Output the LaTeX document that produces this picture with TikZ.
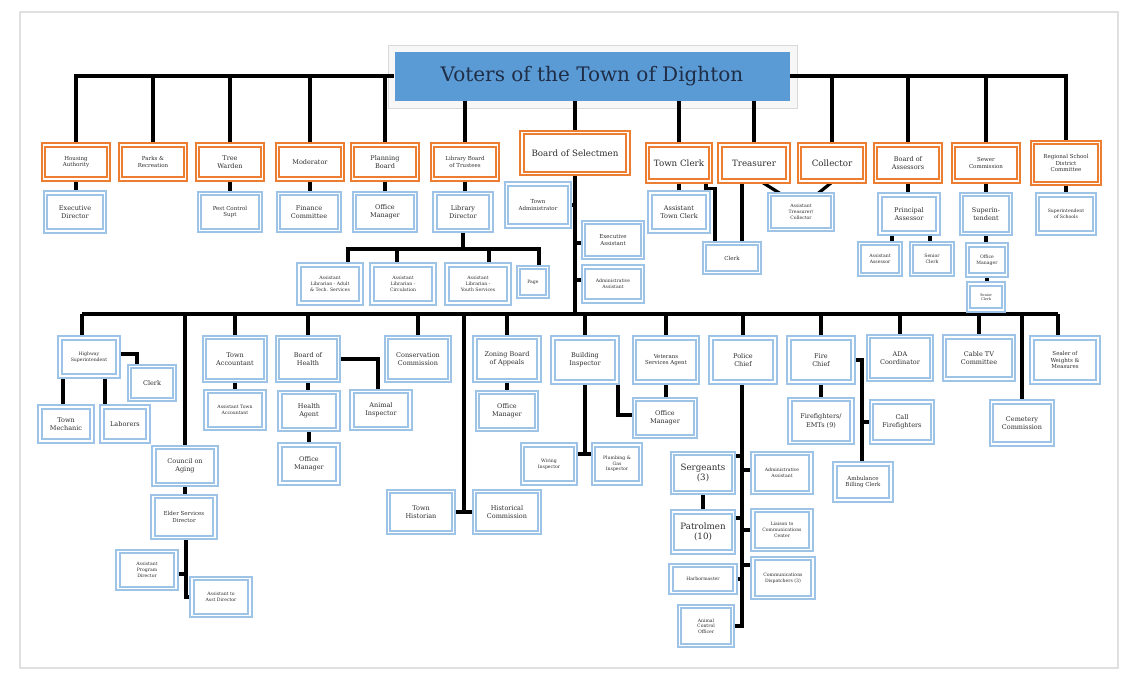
\documentclass[tikz,border=0pt]{standalone}
\usepackage{fontspec}
\setmainfont{DejaVu Serif}
\usepackage{tikz}
\usetikzlibrary{arrows,backgrounds}

\definecolor{boxorange}{RGB}{237,125,49}
\definecolor{boxblue}{RGB}{157,195,230}
\definecolor{titleblue}{RGB}{91,155,213}
\definecolor{titletext}{RGB}{31,45,70}
\definecolor{boxtext}{RGB}{45,45,45}

\begin{document}
\begin{tikzpicture}[x=1pt,y=-1pt]
      \tikzstyle{conn} = [draw, black, line width=3.2pt]
      \tikzstyle{ob} = [draw=boxorange, line width=2.2pt, double=white, double distance=1.1pt, fill=white, align=center, inner sep=1pt, text=boxtext]
      \tikzstyle{bb} = [draw=boxblue, line width=2.1pt, double=white, double distance=1.3pt, fill=white, align=center, inner sep=1pt, text=boxtext]
      \tikzstyle{txtL} = [font=\fontsize{8.7}{10.7}\selectfont]
      \tikzstyle{txtM} = [font=\fontsize{6.5}{8.1}\selectfont]
      \tikzstyle{txtS} = [font=\fontsize{5.5}{6.8}\selectfont]
      \tikzstyle{txtXS} = [font=\fontsize{4.6}{5.7}\selectfont]
      \useasboundingbox (0,0) rectangle (1136,681);
      \draw[black!12, line width=1.5pt] (20,12) rectangle (1118,668);

      % top
      \node[fill=titleblue, minimum width=395, minimum height=49, text=titletext, font=\fontsize{20}{24}\selectfont] (title) at (592,76) {Voters of the Town of Dighton};

      \node[ob, txtS, minimum width=65, minimum height=34] (housing) at (76,162) {Housing\\Authority};
      \node[ob, txtS, minimum width=65, minimum height=34] (parks) at (153,162) {Parks \&\\Recreation};
      \node[ob, txtM, minimum width=65, minimum height=34] (treewarden) at (230,162) {Tree\\Warden};
      \node[ob, txtM, minimum width=65, minimum height=34] (moderator) at (310,162) {Moderator};
      \node[ob, txtM, minimum width=65, minimum height=34] (planning) at (385,162) {Planning\\Board};
      \node[ob, txtS, minimum width=65, minimum height=34] (libboard) at (465,162) {Library Board\\of Trustees};
      \node[ob, txtL, minimum width=106, minimum height=41] (selectmen) at (575,153) {Board of Selectmen};
      \node[ob, txtL, minimum width=63, minimum height=36] (townclerk) at (679,163) {Town Clerk};
      \node[ob, txtL, minimum width=68, minimum height=36] (treasurer) at (754,163) {Treasurer};
      \node[ob, txtL, minimum width=65, minimum height=36] (collector) at (832,163) {Collector};
      \node[ob, txtM, minimum width=65, minimum height=36] (assessors) at (908,163) {Board of\\Assessors};
      \node[ob, txtS, minimum width=65, minimum height=36] (sewer) at (986,163) {Sewer\\Commission};
      \node[ob, txtS, minimum width=67, minimum height=41] (regional) at (1066,163) {Regional School\\District\\Committee};

      % second row
      \node[bb, txtM, minimum width=59, minimum height=38] (exdir) at (75,212) {Executive\\Director};
      \node[bb, txtS, minimum width=61, minimum height=37] (pest) at (230,212) {Pest Control\\Supt};
      \node[bb, txtM, minimum width=61, minimum height=37] (finance) at (309,212) {Finance\\Committee};
      \node[bb, txtM, minimum width=61, minimum height=37] (planoffice) at (385,212) {Office\\Manager};
      \node[bb, txtM, minimum width=56, minimum height=37] (libdir) at (463,212) {Library\\Director};
      \node[bb, txtS, minimum width=63, minimum height=42] (townadmin) at (538,205) {Town\\Administrator};
      \node[bb, txtS, minimum width=59, minimum height=35] (execasst) at (613,240) {Executive\\Assistant};
      \node[bb, txtXS, minimum width=59, minimum height=34] (adminasst) at (613,284) {Administrative\\Assistant};
      \node[bb, txtM, minimum width=58, minimum height=38] (asstclerk) at (679,212) {Assistant\\Town Clerk};
      \node[bb, txtS, minimum width=55, minimum height=29] (treasclerk) at (732,258) {Clerk};
      \node[bb, txtXS, minimum width=63, minimum height=35] (assttreas) at (801,212) {Assistant\\Treasurer/\\Collector};
      \node[bb, txtM, minimum width=58, minimum height=38] (principal) at (909,214) {Principal\\Assessor};
      \node[bb, txtXS, minimum width=41, minimum height=31] (asstassessor) at (880,259) {Assistant\\Assessor};
      \node[bb, txtXS, minimum width=41, minimum height=31] (seniorclerk) at (932,259) {Senior\\Clerk};
      \node[bb, txtM, minimum width=49, minimum height=39] (superint) at (986,214) {Superin-\\tendent};
      \node[bb, txtXS, minimum width=39, minimum height=30] (seweroffice) at (987,260) {Office\\Manager};
      \node[bb, font=\fontsize{3.6}{4.5}\selectfont, minimum width=35, minimum height=26] (sewersenior) at (986,297) {Senior\\Clerk};
      \node[bb, txtXS, minimum width=57, minimum height=38] (supschools) at (1066,214) {Superintendent\\of Schools};

      % library staff
      \node[bb, txtXS, minimum width=62, minimum height=38] (asstadult) at (330,284) {Assistant\\Librarian - Adult\\\& Tech. Services};
      \node[bb, txtXS, minimum width=62, minimum height=38] (asstcirc) at (403,284) {Assistant\\Librarian -\\Circulation};
      \node[bb, txtXS, minimum width=62, minimum height=38] (asstyouth) at (478,284) {Assistant\\Librarian -\\Youth Services};
      \node[bb, txtXS, minimum width=29, minimum height=29] (page) at (533,282) {Page};

      % lower rows
      \node[bb, txtXS, minimum width=58, minimum height=38] (highway) at (89,357) {Highway\\Superintendent};
      \node[bb, txtM, minimum width=45, minimum height=33] (hwclerk) at (152,383) {Clerk};
      \node[bb, txtM, minimum width=52, minimum height=34] (mechanic) at (66,424) {Town\\Mechanic};
      \node[bb, txtM, minimum width=46, minimum height=34] (laborers) at (125,424) {Laborers};
      \node[bb, txtM, minimum width=62, minimum height=37] (aging) at (185,466) {Council on\\Aging};
      \node[bb, txtS, minimum width=62, minimum height=41] (elder) at (184,517) {Elder Services\\Director};
      \node[bb, txtXS, minimum width=58, minimum height=37] (progdir) at (147,570) {Assistant\\Program\\Director};
      \node[bb, txtXS, minimum width=58, minimum height=37] (asstdir) at (221,597) {Assistant to\\Asst Director};
      \node[bb, txtM, minimum width=61, minimum height=43] (accountant) at (235,359) {Town\\Accountant};
      \node[bb, txtXS, minimum width=58, minimum height=37] (asstaccountant) at (235,410) {Assistant Town\\Accountant};
      \node[bb, txtM, minimum width=61, minimum height=43] (health) at (308,359) {Board of\\Health};
      \node[bb, txtM, minimum width=58, minimum height=37] (healthagent) at (309,411) {Health\\Agent};
      \node[bb, txtM, minimum width=58, minimum height=38] (healthoffice) at (309,464) {Office\\Manager};
      \node[bb, txtM, minimum width=58, minimum height=37] (animalinsp) at (381,410) {Animal\\Inspector};
      \node[bb, txtM, minimum width=63, minimum height=43] (conservation) at (418,359) {Conservation\\Commission};
      \node[bb, txtM, minimum width=65, minimum height=41] (historian) at (421,512) {Town\\Historian};
      \node[bb, txtM, minimum width=65, minimum height=41] (historical) at (507,512) {Historical\\Commission};
      \node[bb, txtM, minimum width=64, minimum height=43] (zoning) at (507,359) {Zoning Board\\of Appeals};
      \node[bb, txtM, minimum width=59, minimum height=37] (zoningoffice) at (507,411) {Office\\Manager};
      \node[bb, txtM, minimum width=64, minimum height=44] (building) at (585,360) {Building\\Inspector};
      \node[bb, txtXS, minimum width=53, minimum height=38] (wiring) at (549,464) {Wiring\\Inspector};
      \node[bb, txtXS, minimum width=47, minimum height=38] (plumbing) at (617,464) {Plumbing \&\\Gas\\Inspector};
      \node[bb, txtS, minimum width=63, minimum height=44] (veterans) at (666,360) {Veterans\\Services Agent};
      \node[bb, txtM, minimum width=61, minimum height=37] (vetoffice) at (665,418) {Office\\Manager};
      \node[bb, txtM, minimum width=64, minimum height=44] (police) at (743,360) {Police\\Chief};
      \node[bb, txtM, minimum width=64, minimum height=44] (fire) at (821,360) {Fire\\Chief};
      \node[bb, txtM, minimum width=63, minimum height=43] (ada) at (900,358) {ADA\\Coordinator};
      \node[bb, txtM, minimum width=69, minimum height=42] (cabletv) at (979,358) {Cable TV\\Committee};
      \node[bb, txtS, minimum width=66, minimum height=44] (sealer) at (1065,360) {Sealer of\\Weights \&\\Measures};
      \node[bb, txtM, minimum width=61, minimum height=42] (cemetery) at (1022,423) {Cemetery\\Commission};
      \node[bb, txtM, minimum width=62, minimum height=43] (firefighters) at (821,421) {Firefighters/\\EMTs (9)};
      \node[bb, txtM, minimum width=61, minimum height=40] (callff) at (902,422) {Call\\Firefighters};
      \node[bb, txtS, minimum width=56, minimum height=36] (ambulance) at (863,482) {Ambulance\\Billing Clerk};
      \node[bb, txtL, minimum width=61, minimum height=39] (sergeants) at (703,473) {Sergeants\\(3)};
      \node[bb, txtXS, minimum width=58, minimum height=39] (policeadmin) at (782,473) {Administrative\\Assistant};
      \node[bb, txtL, minimum width=61, minimum height=40] (patrolmen) at (703,532) {Patrolmen\\(10)};
      \node[bb, txtXS, minimum width=58, minimum height=39] (liaison) at (782,530) {Liaison to\\Communications\\Center};
      \node[bb, txtXS, minimum width=64, minimum height=27] (harbor) at (703,579) {Harbormaster};
      \node[bb, txtXS, minimum width=60, minimum height=39] (dispatch) at (783,578) {Communications\\Dispatchers (3)};
      \node[bb, txtXS, minimum width=53, minimum height=39] (animalctl) at (706,626) {Animal\\Control\\Officer};

      \coordinate (busL) at (82,314);
      \coordinate (busR) at (1058,314);
      \coordinate (libbar) at (0,249);
      \coordinate (pagetop) at ([xshift=6]page.north);
      \coordinate (histpt) at (464,512);
      \coordinate (elderline) at ([xshift=2]elder.south);
      \coordinate (bldtick) at ([yshift=10]wiring.east);
      \coordinate (policeline) at ([xshift=-1]police.south);
      \coordinate (fireline) at ([xshift=-1]ambulance.north);

      % connectors, behind the boxes
      \begin{scope}[on background layer]
        \draw[black!15, fill=black!3] (388,45) rectangle (797,108);
        \draw[conn] (title.west) -| (housing.north);
        \foreach \n in {parks,treewarden,moderator,planning}
          \draw[conn] (\n.north) -- (\n.north |- title.west);
        \foreach \n in {libboard,selectmen,townclerk,treasurer}
          \draw[conn] (\n.north) -- (\n.north |- title.south);
        \draw[conn] (title.east) -| (regional.north);
        \foreach \n in {collector,assessors,sewer}
          \draw[conn] (\n.north) -- (\n.north |- title.east);

        \foreach \a/\b in {housing/exdir,treewarden/pest,moderator/finance,planning/planoffice,
            libboard/libdir,townclerk/asstclerk,assessors/principal,sewer/superint,
            superint/seweroffice,seweroffice/sewersenior,regional/supschools}
          \draw[conn] (\a.south) -- (\a.south |- \b.north);

        % library
        \draw[conn] (libdir.south) -- (libdir.south |- libbar);
        \draw[conn] ([xshift=18]asstadult.north) |- (pagetop |- libbar) -- (pagetop);
        \draw[conn] ([xshift=-6]asstcirc.north) -- ++(0,-16);
        \draw[conn] ([xshift=11]asstyouth.north) -- ++(0,-16);

        % selectmen
        \draw[conn] (selectmen.south) -- (selectmen.south |- busL);
        \draw[conn] (townadmin.east) -- (townadmin.east -| selectmen.south);
        \draw[conn] ([yshift=-3]execasst.west) -- ++(-8,0);
        \draw[conn] ([yshift=4]adminasst.west) -- ++(-8,0);

        % treasurer, collector, clerk
        \draw[conn] ([xshift=8]treasurer.south) -- ([xshift=-21]assttreas.north);
        \draw[conn] (collector.south) -- ([xshift=17]assttreas.north);
        \draw[conn] ([xshift=-12]treasurer.south) -- ++(0,62);
        \draw[conn] ([xshift=27]townclerk.south) -- ++(0,6) -| ([xshift=-17]treasclerk.north);

        % assessors
        \draw[conn] ([xshift=-17]principal.south) -- ++(0,12);
        \draw[conn] ([xshift=21]principal.south) -- ++(0,12);

        % main bus
        \draw[conn] (busL) -- (busR);
        \draw[conn] (busL) -- (busL |- highway.north);
        \draw[conn] (busR) -- (busR |- sealer.north);
        \foreach \n in {accountant,health,conservation,zoning,building,veterans,police,fire,ada,cabletv,aging,cemetery}
          \draw[conn] (\n.north) -- (\n.north |- busL);
        \draw[conn] (histpt |- busL) -- (histpt);
        \draw[conn] (historian.east) -- (historical.west);

        % highway
        \draw[conn] ([yshift=3]highway.east) -| ([xshift=-15]hwclerk.north);
        \draw[conn] ([xshift=-26]highway.south) -- ++(0,30);
        \draw[conn] ([xshift=16]highway.south) -- ++(0,30);

        % council on aging
        \draw[conn] (aging.south) -- (aging.south |- elder.north);
        \draw[conn] (elderline) |- (asstdir.west);
        \draw[conn] ([yshift=-4]progdir.east) -- ([yshift=-4]progdir.east -| elderline);

        % accountant, health, zoning
        \draw[conn] (accountant.south) -- (accountant.south |- asstaccountant.north);
        \draw[conn] (health.south) -- (health.south |- healthagent.north);
        \draw[conn] (healthagent.south) -- (healthagent.south |- healthoffice.north);
        \draw[conn] (health.east) -| ([xshift=-3]animalinsp.north);
        \draw[conn] (zoning.south) -- (zoning.south |- zoningoffice.north);

        % building, veterans
        \draw[conn] (building.south) -- (building.south |- bldtick);
        \draw[conn] (bldtick) -- (bldtick -| plumbing.west);
        \draw[conn] ([xshift=33]building.south) |- ([yshift=3]vetoffice.west);
        \draw[conn] (veterans.south) -- (veterans.south |- vetoffice.north);

        % police
        \draw[conn] (policeline) |- (animalctl.east);
        \draw[conn] ([yshift=17]sergeants.east) -- ++(8,0);
        \draw[conn] ([yshift=3]policeadmin.west) -- ++(-10,0);
        \draw[conn] ([yshift=14]patrolmen.east) -- ++(8,0);
        \draw[conn] (liaison.west) -- (liaison.west -| policeline);
        \draw[conn] (harbor.east) -- (harbor.east -| policeline);
        \draw[conn] ([yshift=13]dispatch.west) -- ++(-10,0);
        \draw[conn] (sergeants.south) -- (sergeants.south |- patrolmen.north);

        % fire
        \draw[conn] (fire.east) -| (fireline);
        \draw[conn] (callff.west) -- (callff.west -| fireline);
        \draw[conn] (fire.south) -- (fire.south |- firefighters.north);
      \end{scope}
\end{tikzpicture}
\end{document}
